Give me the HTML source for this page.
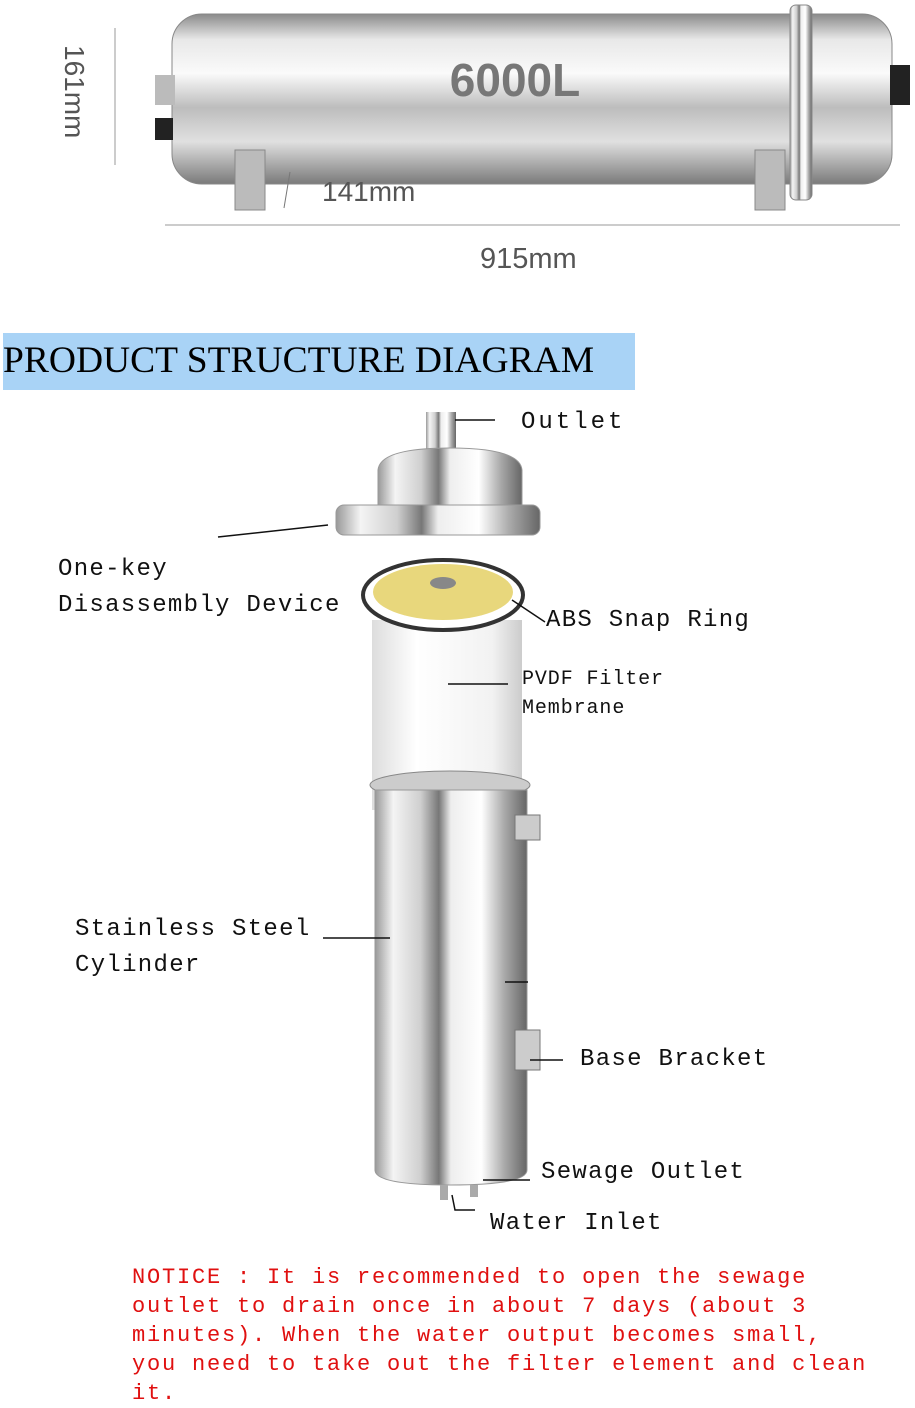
<!DOCTYPE html>
<html><head><meta charset="utf-8"><style>
body{margin:0;background:#fff;width:915px;height:1404px;overflow:hidden;position:relative;font-family:"Liberation Mono",monospace}
.l{position:absolute;font-size:24px;letter-spacing:1.3px;color:#111;white-space:nowrap;line-height:36px}
.s{font-size:20px;letter-spacing:0.9px;line-height:29px}
.n{position:absolute;left:132px;top:1263px;color:#e01010;font-size:22px;letter-spacing:1.8px;line-height:29px;white-space:pre}
.h{position:absolute;left:3px;top:333px;width:632px;height:57px;background:#a9d3f6}
.h span{position:absolute;left:0px;top:6px;font-family:"Liberation Serif",serif;font-size:37.5px;color:#000;white-space:nowrap}
</style></head><body>
<svg width="915" height="1404" style="position:absolute;left:0;top:0">
<defs>
<linearGradient id="hv" x1="0" y1="0" x2="0" y2="1">
<stop offset="0" stop-color="#8a8a8a"/><stop offset=".15" stop-color="#e8e8e8"/><stop offset=".35" stop-color="#fafafa"/><stop offset=".55" stop-color="#bdbdbd"/><stop offset=".75" stop-color="#e0e0e0"/><stop offset="1" stop-color="#7a7a7a"/></linearGradient>
<linearGradient id="vv" x1="0" y1="0" x2="1" y2="0">
<stop offset="0" stop-color="#999"/><stop offset=".12" stop-color="#f4f4f4"/><stop offset=".3" stop-color="#cfcfcf"/><stop offset=".42" stop-color="#777"/><stop offset=".5" stop-color="#eee"/><stop offset=".7" stop-color="#fff"/><stop offset=".85" stop-color="#aaa"/><stop offset="1" stop-color="#666"/></linearGradient>
<linearGradient id="fm" x1="0" y1="0" x2="1" y2="0">
<stop offset="0" stop-color="#ddd"/><stop offset=".3" stop-color="#fff"/><stop offset=".8" stop-color="#f2f2f2"/><stop offset="1" stop-color="#ccc"/></linearGradient>
</defs>
<rect x="172" y="14" width="720" height="170" rx="30" fill="url(#hv)" stroke="#888"/>
<rect x="790" y="5" width="22" height="195" rx="6" fill="url(#vv)" stroke="#888"/>
<rect x="155" y="75" width="20" height="30" fill="#bbb"/><rect x="155" y="118" width="18" height="22" fill="#222"/>
<rect x="890" y="65" width="20" height="40" fill="#222"/>
<path d="M235 150h30v60h-30z M755 150h30v60h-30z" fill="#bbb" stroke="#888"/>
<text x="515" y="96" text-anchor="middle" font-family="Liberation Sans" font-weight="bold" font-size="46" fill="#777">6000L</text>
<line x1="115" y1="28" x2="115" y2="165" stroke="#999"/>
<line x1="165" y1="225" x2="900" y2="225" stroke="#999"/>
<line x1="290" y1="172" x2="284" y2="208" stroke="#777"/>
<text x="322" y="201" font-family="Liberation Sans" font-size="28" fill="#555">141mm</text>
<text x="480" y="268" font-family="Liberation Sans" font-size="29" fill="#555">915mm</text>
<text transform="translate(65,45) rotate(90)" font-family="Liberation Sans" font-size="28" fill="#555">161mm</text>
<rect x="426" y="412" width="30" height="45" fill="url(#vv)"/>
<path d="M378 470 Q380 448 450 448 Q520 448 522 470 L522 525 L378 525Z" fill="url(#vv)" stroke="#999"/>
<rect x="336" y="505" width="204" height="30" rx="8" fill="url(#vv)" stroke="#999"/>
<rect x="372" y="620" width="150" height="190" fill="url(#fm)"/>
<ellipse cx="443" cy="595" rx="80" ry="35" fill="#fff" stroke="#333" stroke-width="4"/>
<ellipse cx="443" cy="592" rx="70" ry="28" fill="#e8d77c"/>
<ellipse cx="443" cy="583" rx="13" ry="6" fill="#888"/>
<ellipse cx="450" cy="785" rx="80" ry="14" fill="#ccc" stroke="#888"/>
<path d="M375 790 H527 V1170 Q527 1185 450 1185 Q375 1185 375 1170Z" fill="url(#vv)" stroke="#999"/>
<path d="M515 815h25v25h-25z M515 1030h25v40h-25z" fill="#ccc" stroke="#777"/>
<rect x="440" y="1185" width="8" height="15" fill="#aaa"/><rect x="470" y="1185" width="8" height="12" fill="#aaa"/>
<g stroke="#111" stroke-width="1.5">
<line x1="455" y1="420" x2="495" y2="420"/>
<line x1="218" y1="537" x2="328" y2="525"/>
<line x1="512" y1="600" x2="545" y2="622"/>
<line x1="448" y1="684" x2="508" y2="684"/>
<line x1="323" y1="938" x2="390" y2="938"/>
<line x1="505" y1="982" x2="528" y2="982"/>
<line x1="530" y1="1060" x2="563" y2="1060"/>
<line x1="483" y1="1180" x2="530" y2="1180"/>
<polyline points="452,1195 455,1210 475,1210" fill="none"/>
</g>
</svg>
<div class="h"><span>PRODUCT STRUCTURE DIAGRAM</span></div>
<div class="l" style="left:521px;top:405px;letter-spacing:3px">Outlet</div>
<div class="l" style="left:58px;top:552px">One-key<br>Disassembly Device</div>
<div class="l" style="left:546px;top:603px">ABS Snap Ring</div>
<div class="l s" style="left:522px;top:665px">PVDF Filter<br>Membrane</div>
<div class="l" style="left:75px;top:912px">Stainless Steel<br>Cylinder</div>
<div class="l" style="left:580px;top:1042px">Base Bracket</div>
<div class="l" style="left:541px;top:1155px">Sewage Outlet</div>
<div class="l" style="left:490px;top:1206px">Water Inlet</div>
<div class="n">NOTICE : It is recommended to open the sewage
outlet to drain once in about 7 days (about 3
minutes). When the water output becomes small,
you need to take out the filter element and clean
it.</div>
</body></html>
